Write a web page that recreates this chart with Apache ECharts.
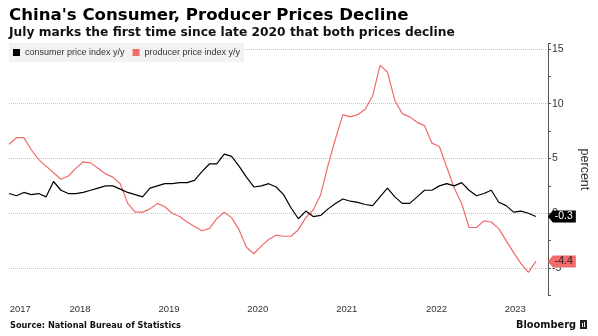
<!DOCTYPE html>
<html>
<head>
<meta charset="utf-8">
<script src="https://cdn.jsdelivr.net/npm/echarts@6/dist/echarts.min.js"></script>
<style>
html,body{margin:0;padding:0;background:#fff;}
#chart{width:598px;height:336px;}
</style>
</head>
<body>
<div id="chart"></div>
<script>
// Monthly data, Aug 2017 .. Jul 2023
const months = [
  '2017-08','2017-09','2017-10','2017-11','2017-12',
  '2018-01','2018-02','2018-03','2018-04','2018-05','2018-06','2018-07','2018-08','2018-09','2018-10','2018-11','2018-12',
  '2019-01','2019-02','2019-03','2019-04','2019-05','2019-06','2019-07','2019-08','2019-09','2019-10','2019-11','2019-12',
  '2020-01','2020-02','2020-03','2020-04','2020-05','2020-06','2020-07','2020-08','2020-09','2020-10','2020-11','2020-12',
  '2021-01','2021-02','2021-03','2021-04','2021-05','2021-06','2021-07','2021-08','2021-09','2021-10','2021-11','2021-12',
  '2022-01','2022-02','2022-03','2022-04','2022-05','2022-06','2022-07','2022-08','2022-09','2022-10','2022-11','2022-12',
  '2023-01','2023-02','2023-03','2023-04','2023-05','2023-06','2023-07'
];
const cpi = [
  1.8, 1.6, 1.9, 1.7, 1.8,
  1.5, 2.9, 2.1, 1.8, 1.8, 1.9, 2.1, 2.3, 2.5, 2.5, 2.2, 1.9,
  1.7, 1.5, 2.3, 2.5, 2.7, 2.7, 2.8, 2.8, 3.0, 3.8, 4.5, 4.5,
  5.4, 5.2, 4.3, 3.3, 2.4, 2.5, 2.7, 2.4, 1.7, 0.5, -0.5, 0.2,
  -0.3, -0.2, 0.4, 0.9, 1.3, 1.1, 1.0, 0.8, 0.7, 1.5, 2.3, 1.5,
  0.9, 0.9, 1.5, 2.1, 2.1, 2.5, 2.7, 2.5, 2.8, 2.1, 1.6, 1.8,
  2.1, 1.0, 0.7, 0.1, 0.2, 0.0, -0.3
];
const ppi = [
  6.3, 6.9, 6.9, 5.8, 4.9,
  4.3, 3.7, 3.1, 3.4, 4.1, 4.7, 4.6, 4.1, 3.6, 3.3, 2.7, 0.9,
  0.1, 0.1, 0.4, 0.9, 0.6, 0.0, -0.3, -0.8, -1.2, -1.6, -1.4, -0.5,
  0.1, -0.4, -1.5, -3.1, -3.7, -3.0, -2.4, -2.0, -2.1, -2.1, -1.5, -0.4,
  0.3, 1.7, 4.4, 6.8, 9.0, 8.8, 9.0, 9.5, 10.7, 13.5, 12.9, 10.3,
  9.1, 8.8, 8.3, 8.0, 6.4, 6.1, 4.2, 2.3, 0.9, -1.3, -1.3, -0.7,
  -0.8, -1.4, -2.5, -3.6, -4.6, -5.4, -4.4
];
const seriesNames = ['consumer price index y/y', 'producer price index y/y'];
const yearLabels = ['2017', '2018', '2019', '2020', '2021', '2022', '2023'];
const yTickLabels = [-5, 0, 5, 10, 15];

// ---- layout / style ----
const yearLabelAt = [0.1, 8.15, 20.15, 32.1, 44.1, 56.2, 66.8]; // month-index anchors of year labels
const CPI_COLOR = '#000000';
const PPI_COLOR = '#f16b6b';
const TAG_PATH = 'path://M0,6L5,0L28,0L28,12L5,12Z';

const chart = echarts.init(document.getElementById('chart'), null, {renderer: 'canvas'});

function pairs(arr) { return arr.map((v, i) => [i, v]); }
function tag(arr, color, textColor) {
  const i = arr.length - 1;
  return {
    silent: true,
    symbol: TAG_PATH,
    symbolSize: [28, 12],
    symbolKeepAspect: false,
    symbolOffset: [26, 0],
    itemStyle: {color: color},
    label: {show: true, position: 'inside', offset: [2, 0], color: textColor,
            fontSize: 10.5, fontFamily: 'Liberation Sans', formatter: '{c}'},
    data: [{coord: [i, arr[i]], value: arr[i]}],
    animation: false
  };
}

const option = {
  animation: false,
  backgroundColor: '#ffffff',
  title: [
    {text: "China's Consumer, Producer Prices Decline", left: 9, top: 7, padding: 0,
     textStyle: {fontSize: 16.6, fontWeight: 'bold', fontFamily: 'DejaVu Sans', color: '#000'}},
    {text: 'July marks the first time since late 2020 that both prices decline', left: 9, top: 27, padding: 0,
     textStyle: {fontSize: 12.25, fontWeight: 'bold', fontFamily: 'DejaVu Sans', color: '#111'}},
    {text: 'Source: National Bureau of Statistics', left: 10, top: 322, padding: 0,
     textStyle: {fontSize: 8.2, fontWeight: 'bold', fontFamily: 'DejaVu Sans', color: '#111'}},
    {text: 'Bloomberg', left: 516, top: 320, padding: 0,
     textStyle: {fontSize: 9.8, fontWeight: 'bold', fontFamily: 'DejaVu Sans', color: '#111'}}
  ],
  graphic: [
    {type: 'rect', left: 580, top: 320, shape: {width: 7, height: 9}, style: {fill: '#222'}},
    {type: 'rect', left: 582, top: 323, shape: {width: 1, height: 4}, style: {fill: '#fff'}},
    {type: 'rect', left: 584, top: 322, shape: {width: 1, height: 5}, style: {fill: '#fff'}}
  ],
  legend: {
    data: seriesNames,
    left: 9, top: 43,
    padding: [4, 4, 4, 4],
    backgroundColor: '#f2f2f2',
    icon: 'rect', itemWidth: 7, itemHeight: 7, itemGap: 8,
    textStyle: {fontSize: 9, color: '#333', fontFamily: 'Liberation Sans', lineHeight: 11}
  },
  grid: {left: 9, right: 50, top: 43.5, bottom: 40.6, containLabel: false, outerBoundsMode: 'none'},
  xAxis: {
    type: 'value', min: 0, max: 72.64,
    axisLine: {show: false, onZero: false},
    axisTick: {show: false},
    splitLine: {show: false},
    axisLabel: {
      customValues: yearLabelAt,
      formatter: function (v) {
        let best = 0, d = Infinity;
        yearLabelAt.forEach((p, k) => { if (Math.abs(p - v) < d) { d = Math.abs(p - v); best = k; } });
        return yearLabels[best];
      },
      align: 'left', margin: 9, fontSize: 9.5, color: '#333', fontFamily: 'Liberation Sans'
    }
  },
  yAxis: {
    type: 'value', position: 'right',
    min: -7.5, max: 15.5, interval: 2.5,
    axisLine: {show: true, onZero: false, lineStyle: {color: '#555', width: 1}},
    axisTick: {show: true, length: 3, lineStyle: {color: '#555'}},
    axisLabel: {
      margin: 4, fontSize: 10.5, color: '#333', fontFamily: 'Liberation Sans',
      formatter: v => (yTickLabels.indexOf(v) >= 0 ? String(v) : '')
    },
    splitLine: {show: true, lineStyle: {type: 'dotted', color: ['transparent', '#c4c4c4'], width: 1}},
    name: 'percent', nameLocation: 'middle', nameRotate: -90, nameGap: 30,
    nameTextStyle: {fontSize: 12.5, color: '#333', fontFamily: 'Liberation Sans'}
  },
  series: [
    {name: seriesNames[0], type: 'line', data: pairs(cpi), showSymbol: false, symbol: 'none',
     lineStyle: {color: CPI_COLOR, width: 1.2}, itemStyle: {color: CPI_COLOR}, z: 3,
     markPoint: tag(cpi, CPI_COLOR, '#ffffff')},
    {name: seriesNames[1], type: 'line', data: pairs(ppi), showSymbol: false, symbol: 'none',
     lineStyle: {color: PPI_COLOR, width: 1.2}, itemStyle: {color: PPI_COLOR}, z: 2,
     markPoint: tag(ppi, PPI_COLOR, '#222222')}
  ]
};
chart.setOption(option);
</script>
</body>
</html>
